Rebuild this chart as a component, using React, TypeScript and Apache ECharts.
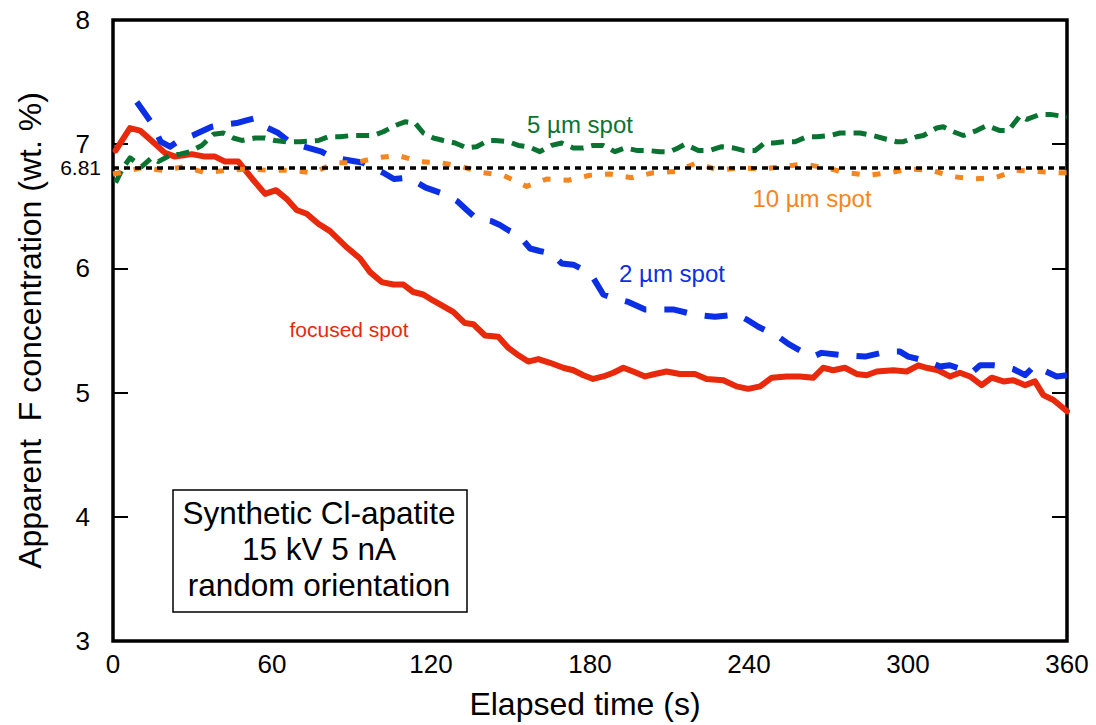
import React, { useEffect, useRef } from "react";
import * as echarts from "echarts";

const xTicks = [0, 60, 120, 180, 240, 300, 360];
const yTicks = [3, 4, 5, 6, 7, 8];
const refValue = 6.81;

const focusedTime = [1, 6.4, 10.2, 15, 19.6, 23.4, 29.7, 34.7, 38.5, 42.3, 47.3, 52.6, 57.4, 61.5, 65.5, 69.3, 73.1, 77.5, 81.9, 88.2, 93.2, 97, 101.4, 105.8, 109.6, 113.3, 117.1, 120.9, 125.9, 128.4, 132.8, 136, 140.4, 145.4, 149.2, 153, 156.7, 160.5, 164.9, 169.9, 173.7, 177.5, 181.2, 185, 188.8, 192.6, 196.3, 200.8, 204.5, 208.9, 213.9, 219.6, 224, 230.3, 235.3, 239.7, 244.2, 248.6, 254.2, 259.2, 264.3, 268, 271.8, 276.2, 280.6, 284.4, 288.2, 294.4, 299.5, 303.9, 307, 311.4, 315.8, 319.6, 323.4, 327.8, 331.6, 336, 339.7, 344.2, 347.9, 351.1, 354.9, 360];
const focusedValue = [6.95, 7.13, 7.11, 7.02, 6.93, 6.9, 6.92, 6.9, 6.9, 6.86, 6.86, 6.72, 6.6, 6.63, 6.56, 6.47, 6.44, 6.36, 6.3, 6.17, 6.08, 5.97, 5.89, 5.87, 5.87, 5.81, 5.79, 5.74, 5.68, 5.65, 5.56, 5.55, 5.46, 5.45, 5.36, 5.3, 5.25, 5.27, 5.24, 5.2, 5.18, 5.14, 5.11, 5.13, 5.16, 5.2, 5.17, 5.13, 5.15, 5.17, 5.15, 5.15, 5.11, 5.1, 5.05, 5.03, 5.05, 5.12, 5.13, 5.13, 5.12, 5.2, 5.18, 5.2, 5.15, 5.14, 5.17, 5.18, 5.17, 5.22, 5.2, 5.18, 5.13, 5.16, 5.13, 5.06, 5.12, 5.09, 5.1, 5.06, 5.09, 4.98, 4.94, 4.85];

const spot2Time = [9, 14.6, 18, 21.5, 25, 30, 37.2, 42, 46.7, 50, 53.6, 57.4, 62.4, 66, 70.3, 78.7, 82, 86.3, 94.5, 98, 102, 106, 110.8, 114, 118, 126, 130, 133.5, 137.2, 142.9, 146, 149.8, 153, 157.4, 161, 165.5, 169.3, 173.7, 177.5, 181.3, 185, 189, 194.5, 200.8, 203.9, 211.4, 219, 227.2, 235.3, 239, 243.5, 251.1, 255, 259.2, 264.3, 267.4, 275.6, 283.8, 292, 297, 300.1, 307.7, 312.1, 315.8, 320, 324, 327.2, 332.2, 336, 339.7, 344.2, 347.9, 352, 356.1, 360];
const spot2Value = [7.34, 7.17, 7.02, 6.98, 7.03, 7.07, 7.14, 7.16, 7.17, 7.19, 7.21, 7.14, 7.09, 7.03, 6.99, 6.94, 6.9, 6.88, 6.85, 6.81, 6.77, 6.72, 6.73, 6.7, 6.65, 6.59, 6.54, 6.47, 6.4, 6.38, 6.35, 6.3, 6.27, 6.16, 6.14, 6.12, 6.04, 6.03, 5.99, 5.92, 5.79, 5.76, 5.73, 5.67, 5.67, 5.67, 5.63, 5.61, 5.63, 5.59, 5.53, 5.45, 5.39, 5.34, 5.29, 5.32, 5.3, 5.29, 5.33, 5.33, 5.29, 5.25, 5.21, 5.22, 5.19, 5.16, 5.22, 5.22, 5.21, 5.19, 5.14, 5.22, 5.17, 5.13, 5.14];

const spot5Time = [1, 3.5, 6.4, 8.9, 10.8, 14.6, 17.1, 21.5, 25.3, 29.1, 33.5, 37.9, 41.6, 45.4, 48.6, 53.6, 57.4, 61.1, 65.5, 70.6, 77.5, 81.2, 85.7, 90, 93.2, 98.2, 102, 106.4, 110.2, 114, 117.1, 120.9, 124.7, 129.1, 133.5, 137.2, 141.6, 144.2, 149.2, 153, 156.7, 161.1, 165.5, 169.3, 173.7, 177.5, 181.2, 185, 189.4, 193.2, 197.6, 201.4, 206.4, 210.2, 213.3, 215.8, 220.9, 225.3, 229.7, 234.1, 237.8, 242.3, 246, 249.2, 253.6, 257.4, 261.8, 265.5, 270.6, 274.3, 278.1, 281.9, 286.9, 291.9, 295.7, 298.2, 303.3, 305.8, 310.8, 313.3, 317.1, 320.9, 325.9, 329.7, 334.7, 337.9, 342.3, 344.8, 349.8, 353.6, 360];
const spot5Value = [6.69, 6.8, 6.89, 6.85, 6.82, 6.89, 6.86, 6.91, 6.92, 6.94, 6.99, 7.08, 7.09, 7.05, 7.03, 7.05, 7.05, 7.03, 7.02, 7.02, 7.03, 7.06, 7.06, 7.07, 7.07, 7.07, 7.1, 7.15, 7.18, 7.17, 7.09, 7.05, 7.03, 7.01, 6.97, 6.98, 7.03, 7.03, 7.02, 6.99, 6.98, 6.94, 6.99, 7.01, 6.97, 6.97, 6.99, 6.99, 6.94, 6.97, 6.95, 6.95, 6.94, 6.94, 6.97, 7.0, 6.95, 6.95, 6.98, 6.97, 6.95, 6.95, 7.01, 7.01, 7.02, 7.02, 7.06, 7.06, 7.07, 7.09, 7.09, 7.09, 7.07, 7.04, 7.02, 7.02, 7.06, 7.07, 7.13, 7.14, 7.1, 7.07, 7.11, 7.15, 7.11, 7.11, 7.23, 7.2, 7.24, 7.24, 7.22];

const spot10Time = [0, 2.6, 10.8, 19, 27.2, 34.7, 42.9, 51.1, 58.6, 66.8, 75.6, 83.8, 91.3, 99.2, 107.4, 115.8, 123.8, 131.6, 139.7, 147.3, 156.1, 163.7, 171.8, 180, 187.5, 195.7, 203.9, 212.1, 220.3, 228.4, 236.6, 244.8, 253, 260.5, 268.7, 276.9, 285, 292.6, 300.8, 309, 316.5, 324.7, 332.8, 341, 349.2, 357, 360];
const spot10Value = [6.76, 6.77, 6.81, 6.79, 6.82, 6.77, 6.79, 6.8, 6.79, 6.79, 6.77, 6.85, 6.85, 6.89, 6.91, 6.86, 6.85, 6.82, 6.77, 6.75, 6.66, 6.72, 6.71, 6.75, 6.76, 6.73, 6.77, 6.78, 6.85, 6.79, 6.81, 6.8, 6.82, 6.84, 6.81, 6.77, 6.75, 6.77, 6.8, 6.79, 6.74, 6.72, 6.73, 6.79, 6.78, 6.77, 6.77];

const pairs = (t: number[], v: number[]) => t.map((x, i) => [x, v[i]]);

const RED = "#e8290c";
const BLUE = "#0b2fe4";
const GREEN = "#0b7332";
const ORANGE = "#f5861f";
const FONT = "Liberation Sans, Arial, Helvetica, sans-serif";

export default function App() {
  const ref = useRef<HTMLDivElement>(null);
  useEffect(() => {
    if (!ref.current) return;
    const chart = echarts.init(ref.current, null, { renderer: "svg" });
    const yAxisBase = {
      type: "value",
      min: yTicks[0],
      max: yTicks[yTicks.length - 1],
      interval: 1,
      axisLine: { show: false },
      axisTick: { show: true, inside: true, length: 15, lineStyle: { color: "#000", width: 2 } },
      splitLine: { show: false },
    };
    chart.setOption({
      animation: false,
      backgroundColor: "#fff",
      textStyle: { fontFamily: FONT },
      grid: {
        left: 113,
        right: 29,
        top: 20,
        bottom: 84,
        show: true,
        borderColor: "#000",
        borderWidth: 3.5,
      },
      xAxis: {
        type: "value",
        min: xTicks[0],
        max: xTicks[xTicks.length - 1],
        interval: 60,
        axisLine: { show: false },
        axisTick: { show: false },
        splitLine: { show: false },
        axisLabel: { fontSize: 26, color: "#000", margin: 10, fontFamily: FONT },
        name: "Elapsed time (s)",
        nameLocation: "middle",
        nameGap: 47,
        nameTextStyle: { fontSize: 32, color: "#000", fontFamily: FONT, padding: [0, 10, 0, 0] },
      },
      yAxis: [
        {
          ...yAxisBase,
          position: "left",
          axisLabel: { fontSize: 26, color: "#000", margin: 23, fontFamily: FONT },
          name: "Apparent  F concentration (wt. %)",
          nameLocation: "middle",
          nameGap: 67,
          nameTextStyle: { fontSize: 32, color: "#000", fontFamily: FONT },
        },
        {
          ...yAxisBase,
          position: "right",
          axisLabel: { show: false },
        },
      ],
      series: [
        {
          name: "focused spot",
          type: "line",
          showSymbol: false,
          data: pairs(focusedTime, focusedValue),
          lineStyle: { color: RED, width: 6, join: "round", cap: "round" },
          z: 2,
        },
        {
          name: "2 µm spot",
          type: "line",
          showSymbol: false,
          data: pairs(spot2Time, spot2Value),
          lineStyle: { color: BLUE, width: 6, type: [23, 18], join: "round" },
          z: 3,
        },
        {
          name: "5 µm spot",
          type: "line",
          showSymbol: false,
          data: pairs(spot5Time, spot5Value),
          lineStyle: { color: GREEN, width: 5, type: [13, 8], join: "round" },
          z: 4,
        },
        {
          name: "10 µm spot",
          type: "line",
          showSymbol: false,
          data: pairs(spot10Time, spot10Value),
          lineStyle: { color: ORANGE, width: 5, type: [8, 13], join: "round" },
          z: 5,
          markLine: {
            silent: true,
            symbol: "none",
            data: [{ yAxis: refValue }],
            lineStyle: { color: "#000", width: 3.5, type: [6, 5] },
            label: {
              show: true,
              position: "start",
              formatter: String(refValue),
              fontSize: 21,
              color: "#000",
              distance: 12,
              fontFamily: FONT,
            },
            z: 6,
          },
        },
      ],
      graphic: [
        { type: "text", x: 580, y: 124, style: { text: "5 µm spot", fill: GREEN, fontSize: 24, fontFamily: FONT, align: "center", verticalAlign: "middle" } },
        { type: "text", x: 812, y: 198, style: { text: "10 µm spot", fill: ORANGE, fontSize: 24, fontFamily: FONT, align: "center", verticalAlign: "middle" } },
        { type: "text", x: 672, y: 273, style: { text: "2 µm spot", fill: BLUE, fontSize: 24, fontFamily: FONT, align: "center", verticalAlign: "middle" } },
        { type: "text", x: 349, y: 329, style: { text: "focused spot", fill: RED, fontSize: 21, fontFamily: FONT, align: "center", verticalAlign: "middle" } },
        {
          type: "group",
          children: [
            { type: "rect", shape: { x: 173, y: 490, width: 294, height: 122 }, style: { fill: "#fff", stroke: "#000", lineWidth: 1.5 } },
            {
              type: "text",
              x: 319,
              y: 549,
              style: {
                text: "Synthetic Cl-apatite\n15 kV 5 nA\nrandom orientation",
                fill: "#000",
                fontSize: 31.5,
                lineHeight: 36,
                fontFamily: FONT,
                align: "center",
                verticalAlign: "middle",
              },
            },
          ],
        },
      ],
    });
    return () => chart.dispose();
  }, []);
  return (
    <div
      ref={ref}
      style={{ position: "absolute", left: 0, top: 0, width: 1096, height: 725, background: "#fff" }}
    />
  );
}
